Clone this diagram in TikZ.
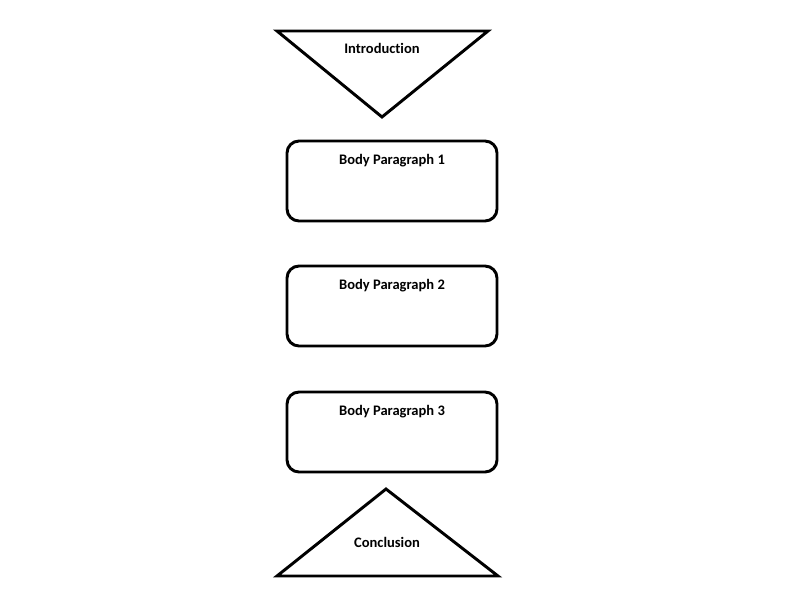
\documentclass[tikz,border=0pt]{standalone}
\usepackage{fontspec}
\setmainfont[Ligatures={NoCommon}]{Carlito}
\begin{document}
\begin{tikzpicture}[x=0.75pt,y=-0.75pt,
  shapeline/.style={draw=black,line width=2.2pt,line join=miter,fill=white},
  boxline/.style={draw=black,line width=2.2pt,rounded corners=9pt,fill=white},
  lbl/.style={font=\bfseries\fontsize{10.9}{12}\selectfont,inner sep=0pt,text=black}]
\useasboundingbox[fill=white] (0,0) rectangle (800,600);
% Introduction (inverted triangle)
\draw[shapeline] (277,31) -- (488,31) -- (382,117) -- cycle;
\node[lbl] (intro) at (382,48) {Introduction};
% Body paragraphs
\draw[boxline] (287,141) rectangle (497,221);
\node[lbl] (b1) at (392,161) {Body Paragraph 1};
\draw[boxline] (287,266) rectangle (497,346);
\node[lbl] (b2) at (392,286) {Body Paragraph 2};
\draw[boxline] (287,392) rectangle (497,472);
\node[lbl] (b3) at (392,412) {Body Paragraph 3};
% Conclusion (triangle)
\draw[shapeline] (386,489) -- (498,576) -- (277,576) -- cycle;
\node[lbl] (concl) at (387,542) {Conclusion};
\end{tikzpicture}
\end{document}
